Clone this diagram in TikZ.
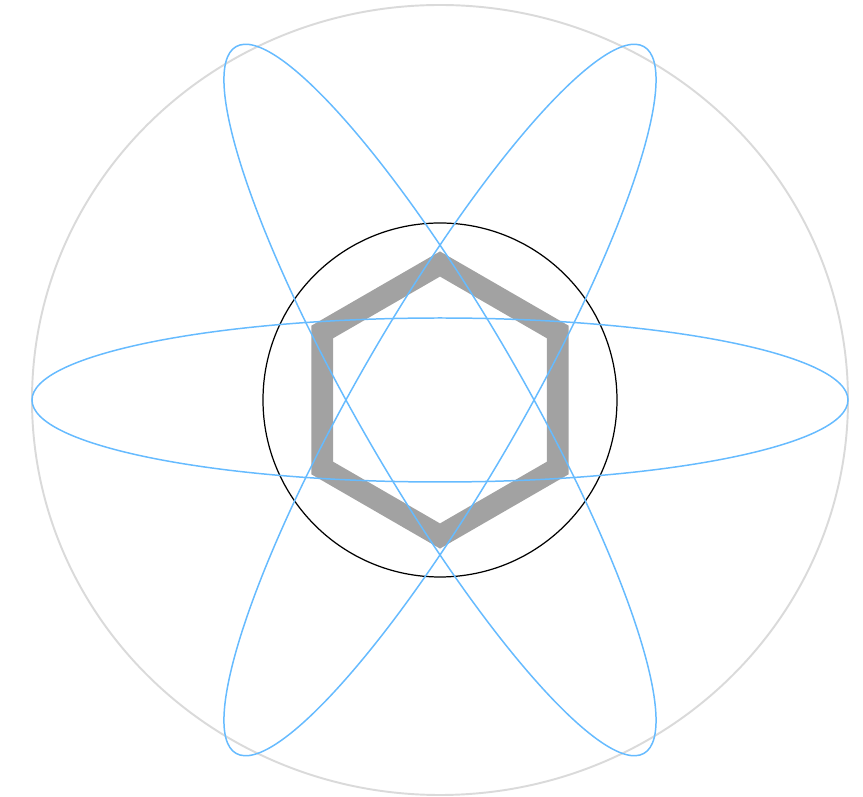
\documentclass[tikz,border=0pt]{standalone}
\definecolor{orbita}{RGB}{102,187,255}
\definecolor{guscio}{RGB}{218,218,218}
\definecolor{anello}{RGB}{162,162,162}
\begin{document}
\begin{tikzpicture}[x=0.02cm, y=0.02cm]
    \useasboundingbox (-440,-397) rectangle (423,400);
    \coordinate (centro) at (0,0);

    % Guscio esterno
    \draw[guscio, line width=1.1pt] (centro) ellipse [x radius=408, y radius=395];

    % Nucleo
    \draw[black, line width=0.7pt] (centro) circle [radius=177];
    \draw[anello, line width=12.4pt, line join=miter]
        (90:136) -- (150:136) -- (210:136) -- (270:136) -- (330:136) -- (30:136) -- cycle;

    % Orbite
    \foreach \a in {0,60,120}
        \draw[orbita, line width=0.85pt, rotate=\a] (centro) ellipse [x radius=408, y radius=82];
\end{tikzpicture}
\end{document}
